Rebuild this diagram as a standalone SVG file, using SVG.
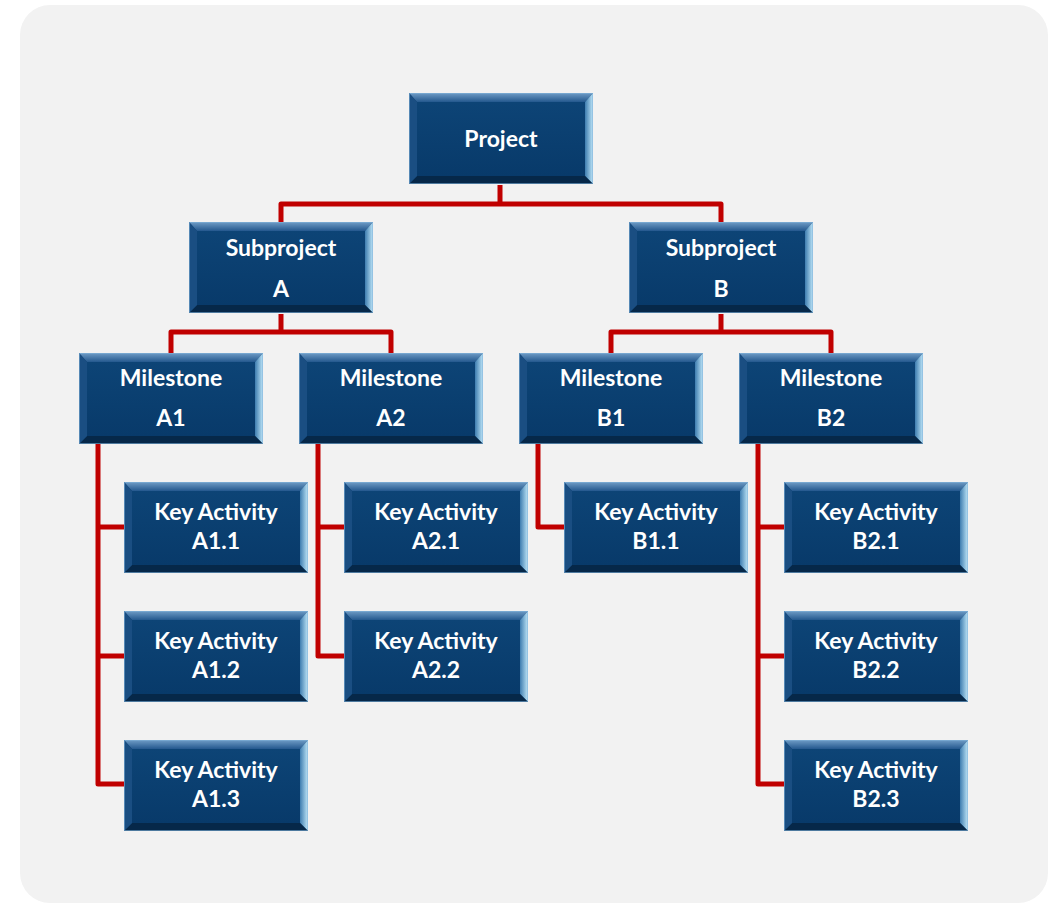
<svg xmlns="http://www.w3.org/2000/svg" xmlns:xlink="http://www.w3.org/1999/xlink" width="1050" height="908" viewBox="0 0 1050 908">
<defs>
<style>
.conn{fill:none;stroke:#C00000;stroke-width:5;stroke-linejoin:round;stroke-linecap:butt}
.t{font-family:Lato,"Open Sans","Liberation Sans",sans-serif;font-weight:bold;font-size:23px;fill:#FFFFFF;text-anchor:middle}
</style>
<linearGradient id="gTop" x1="0" y1="0" x2="0" y2="1">
<stop offset="0" stop-color="#6F9CC6"/>
<stop offset="1" stop-color="#24588E"/>
</linearGradient>
<linearGradient id="gRight" x1="0" y1="0" x2="1" y2="0">
<stop offset="0" stop-color="#3E7DB0"/>
<stop offset="1" stop-color="#BFE6F8"/>
</linearGradient>
<linearGradient id="gFace" x1="0" y1="0" x2="0" y2="1">
<stop offset="0" stop-color="#0D4476"/>
<stop offset="1" stop-color="#083A6A"/>
</linearGradient>
<g id="box">
<rect x="0" y="0" width="184" height="91" fill="#0B3D6D"/>
<polygon points="0,0 184,0 176,9 8,9" fill="url(#gTop)"/>
<polygon points="184,0 184,91 176,83 176,9" fill="url(#gRight)"/>
<polygon points="0,91 184,91 176,83 8,83" fill="#062849"/>
<polygon points="0,0 8,9 8,83 0,91" fill="#1A4E82"/>
<rect x="8" y="9" width="168" height="74" fill="url(#gFace)"/>
<rect x="0.5" y="0.5" width="183" height="90" fill="none" stroke="#7FB0D8" stroke-width="1" stroke-opacity="0.6"/>
</g>
</defs>
<rect x="0" y="0" width="1050" height="908" fill="#FFFFFF"/>
<rect id="panel" x="20" y="5" width="1028" height="898" rx="30" ry="30" fill="#F2F2F2"/>
<g id="connectors">
<path class="conn" d="M500,185 V204"/>
<path class="conn" d="M281,222 V204 H721 V222"/>
<path class="conn" d="M281,314 V332"/>
<path class="conn" d="M171,353 V332 H391 V353"/>
<path class="conn" d="M721,314 V332"/>
<path class="conn" d="M611,353 V332 H831 V353"/>
<path class="conn" d="M98,443 V784 H124"/>
<path class="conn" d="M98,527 H124"/>
<path class="conn" d="M98,656 H124"/>
<path class="conn" d="M318,443 V656 H344"/>
<path class="conn" d="M318,527 H344"/>
<path class="conn" d="M538,443 V527 H564"/>
<path class="conn" d="M758,443 V784 H784"/>
<path class="conn" d="M758,527 H784"/>
<path class="conn" d="M758,656 H784"/>
</g>
<g id="project"><use xlink:href="#box" x="409" y="93"/><text class="t" x="501" y="147">Project</text></g>
<g id="subA"><use xlink:href="#box" x="189" y="222"/><text class="t" x="281" y="256">Subproject</text><text class="t" x="281" y="297">A</text></g>
<g id="subB"><use xlink:href="#box" x="629" y="222"/><text class="t" x="721" y="256">Subproject</text><text class="t" x="721" y="297">B</text></g>
<g id="msA1"><use xlink:href="#box" x="79" y="353"/><text class="t" x="171" y="386">Milestone</text><text class="t" x="171" y="426">A1</text></g>
<g id="msA2"><use xlink:href="#box" x="299" y="353"/><text class="t" x="391" y="386">Milestone</text><text class="t" x="391" y="426">A2</text></g>
<g id="msB1"><use xlink:href="#box" x="519" y="353"/><text class="t" x="611" y="386">Milestone</text><text class="t" x="611" y="426">B1</text></g>
<g id="msB2"><use xlink:href="#box" x="739" y="353"/><text class="t" x="831" y="386">Milestone</text><text class="t" x="831" y="426">B2</text></g>
<g id="kaA11"><use xlink:href="#box" x="124" y="482"/><text class="t" x="216" y="520">Key Activity</text><text class="t" x="216" y="549">A1.1</text></g>
<g id="kaA12"><use xlink:href="#box" x="124" y="611"/><text class="t" x="216" y="649">Key Activity</text><text class="t" x="216" y="678">A1.2</text></g>
<g id="kaA13"><use xlink:href="#box" x="124" y="740"/><text class="t" x="216" y="778">Key Activity</text><text class="t" x="216" y="807">A1.3</text></g>
<g id="kaA21"><use xlink:href="#box" x="344" y="482"/><text class="t" x="436" y="520">Key Activity</text><text class="t" x="436" y="549">A2.1</text></g>
<g id="kaA22"><use xlink:href="#box" x="344" y="611"/><text class="t" x="436" y="649">Key Activity</text><text class="t" x="436" y="678">A2.2</text></g>
<g id="kaB11"><use xlink:href="#box" x="564" y="482"/><text class="t" x="656" y="520">Key Activity</text><text class="t" x="656" y="549">B1.1</text></g>
<g id="kaB21"><use xlink:href="#box" x="784" y="482"/><text class="t" x="876" y="520">Key Activity</text><text class="t" x="876" y="549">B2.1</text></g>
<g id="kaB22"><use xlink:href="#box" x="784" y="611"/><text class="t" x="876" y="649">Key Activity</text><text class="t" x="876" y="678">B2.2</text></g>
<g id="kaB23"><use xlink:href="#box" x="784" y="740"/><text class="t" x="876" y="778">Key Activity</text><text class="t" x="876" y="807">B2.3</text></g>
</svg>
